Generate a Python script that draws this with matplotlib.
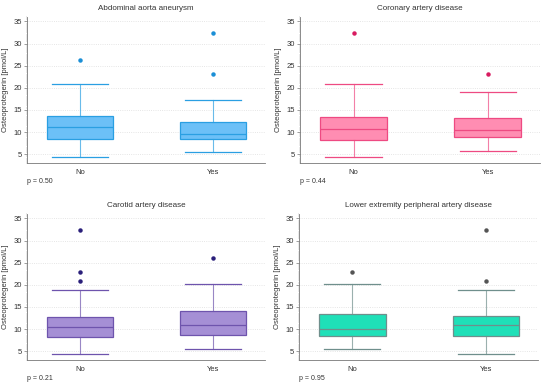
import numpy as np
import matplotlib.pyplot as plt
from matplotlib.ticker import MultipleLocator

plt.rcParams['font.family'] = ['Liberation Sans', 'DejaVu Sans']

titles = ['Abdominal aorta aneurysm', 'Coronary artery disease',
          'Carotid artery disease', 'Lower extremity peripheral artery disease']
groups = ['No', 'Yes']
p_values = ['p = 0.50', 'p = 0.44', 'p = 0.21', 'p = 0.95']

# (whislo, q1, median, q3, whishi) for No / Yes
aaa_stats = [(4.3, 8.4, 11.1, 13.6, 20.9), (5.5, 8.4, 9.6, 12.3, 17.3)]
aaa_fliers = [[26.2], [23.1, 32.4]]
cad_stats = [(4.3, 8.2, 10.7, 13.5, 20.9), (5.6, 8.9, 10.5, 13.1, 19.1)]
cad_fliers = [[32.4], [23.1]]
carotid_stats = [(4.3, 8.3, 10.4, 12.8, 18.8), (5.5, 8.7, 10.9, 14.1, 20.1)]
carotid_fliers = [[20.8, 23.0, 32.4], [26.1]]
lepad_stats = [(5.4, 8.35, 10.1, 13.5, 20.1), (4.3, 8.35, 11.0, 13.0, 18.8)]
lepad_fliers = [[23.0], [20.8, 32.3]]

all_stats = [aaa_stats, cad_stats, carotid_stats, lepad_stats]
all_fliers = [aaa_fliers, cad_fliers, carotid_fliers, lepad_fliers]

fills = ['#6cc0f7', '#ff8db2', '#a58fd5', '#1fe0b8']
edges = ['#2a9fe2', '#ee4a82', '#6e54ad', '#6f8f8c']
dots = ['#1b8fd6', '#d81b60', '#2a1f7a', '#555555']

# axes boxes in pixels (left, top, right, bottom) for a 550x384 figure
W, H = 550, 384
boxes = [(27, 17, 265, 163), (300, 17, 540, 163),
         (27, 214, 265, 360), (299, 214, 538, 360)]

fig = plt.figure(figsize=(5.5, 3.84), dpi=100)

for i in range(4):
    l, t, r, b = boxes[i]
    ax = fig.add_axes([l / W, 1 - b / H, (r - l) / W, (b - t) / H])
    bstats = []
    for j, g in enumerate(groups):
        lo, q1, med, q3, hi = all_stats[i][j]
        bstats.append(dict(label=g, whislo=lo, q1=q1, med=med, q3=q3,
                           whishi=hi, fliers=all_fliers[i][j]))
    ax.bxp(bstats, positions=[0, 1], widths=0.5, patch_artist=True,
           boxprops=dict(facecolor=fills[i], edgecolor=edges[i], linewidth=0.9),
           medianprops=dict(color=edges[i], linewidth=0.9),
           whiskerprops=dict(color=edges[i], linewidth=0.8, alpha=0.7),
           capprops=dict(color=edges[i], linewidth=0.9),
           capwidths=0.42,
           flierprops=dict(marker='o', markersize=2.2, markerfacecolor=dots[i],
                           markeredgecolor=dots[i]))
    ax.set_xlim(-0.4, 1.39)
    ax.set_ylim(3, 36)
    ax.yaxis.set_major_locator(MultipleLocator(5))
    ax.yaxis.set_minor_locator(MultipleLocator(0.5))
    ax.grid(axis='y', color='#dddddd', linestyle=':', linewidth=0.6)
    ax.set_axisbelow(True)
    for s in ['top', 'right']:
        ax.spines[s].set_visible(False)
    for s in ['left', 'bottom']:
        ax.spines[s].set_color('#777777')
        ax.spines[s].set_linewidth(0.6)
    ax.tick_params(axis='both', labelsize=5.5, colors='#777777', labelcolor='#333333',
                   length=2, width=0.5, pad=1.5)
    ax.tick_params(axis='y', which='minor', length=1, width=0.3, colors='#999999')
    ax.tick_params(axis='x', length=0, pad=4)
    ax.set_ylabel('Osteoprotegerin [pmol/L]', fontsize=5.5, color='#333333', labelpad=3)
    ax.set_title(titles[i], fontsize=5.8, color='#333333', pad=5)
    ax.text(0.0, -0.1, p_values[i], transform=ax.transAxes, fontsize=5,
            color='#333333', va='top', ha='left')

fig.savefig('out.png', dpi=100)
